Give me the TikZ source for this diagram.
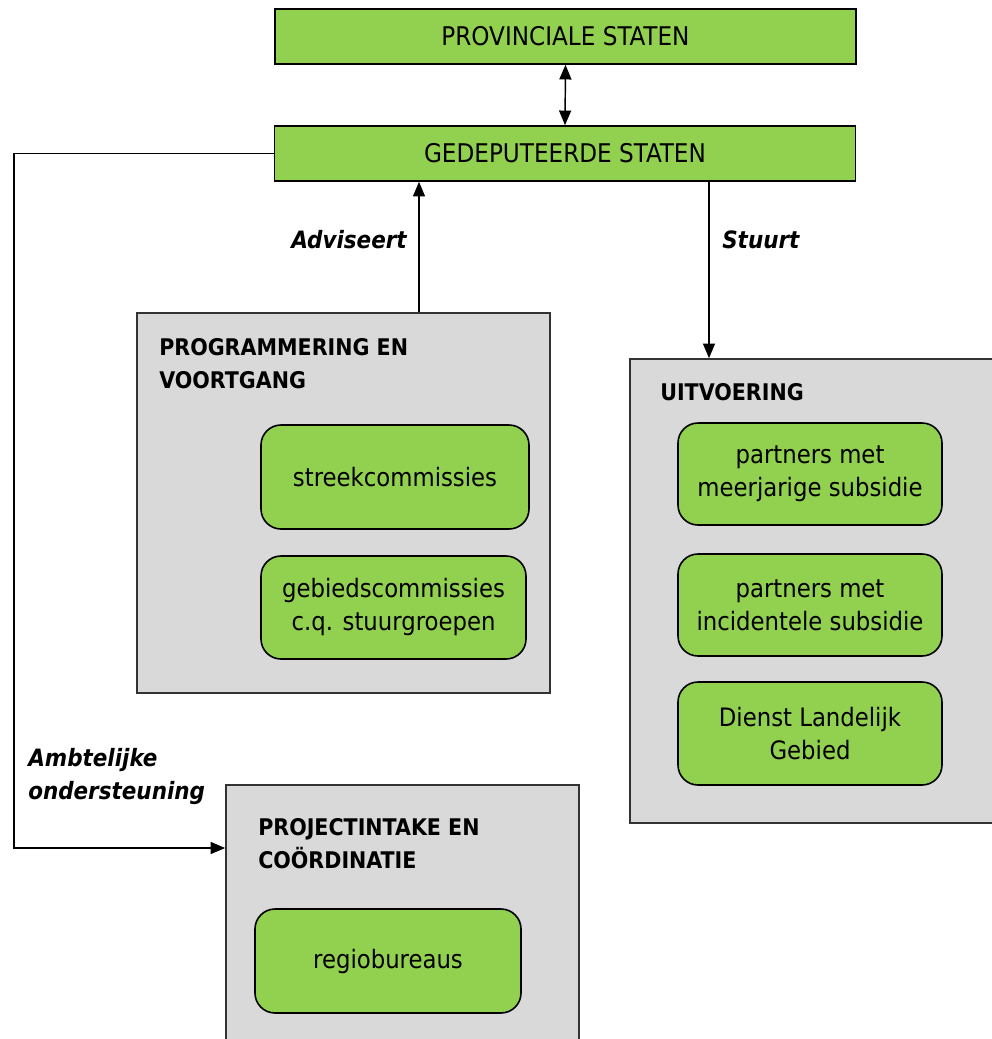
\documentclass[tikz,border=0pt]{standalone}
\usepackage{fontspec}
\setmainfont{DejaVu Sans Condensed}
\usetikzlibrary{arrows.meta}
\definecolor{boxgreen}{HTML}{92D050}
\definecolor{boxgray}{HTML}{D9D9D9}
\begin{document}
\begin{tikzpicture}[x=0.75pt,y=-0.75pt,
  topbox/.style={draw=black,line width=1.2pt,fill=boxgreen,minimum width=435.5pt,minimum height=41.25pt,inner sep=0pt,font=\fontsize{19.3}{24}\selectfont},
  group/.style={draw=black!80,line width=1.2pt,fill=boxgray,inner sep=0pt},
  item/.style={draw=black,line width=1.2pt,fill=boxgreen,rounded corners=15pt,inner sep=0pt,align=center,font=\fontsize{19}{24.75}\selectfont},
  title/.style={anchor=west,align=left,inner sep=0pt,font=\bfseries\fontsize{17.2}{24.75}\selectfont},
  lbl/.style={inner sep=0pt,align=left,font=\bfseries\itshape\fontsize{17.9}{24.75}\selectfont},
  arr/.style={line width=1.1pt,-{Triangle[length=11pt,width=9pt]}},
  arrtwo/.style={line width=1.1pt,{Triangle[length=11pt,width=9pt]}-{Triangle[length=11pt,width=9pt]}},
  conn/.style={line width=1.1pt}]
\useasboundingbox (0,0) rectangle (992,1039);

% top boxes
\node[topbox] (ps) at (565.5,36.5) {PROVINCIALE STATEN};
\node[topbox] (gs) at (565,153.5) {GEDEPUTEERDE STATEN};

% groups
\node[group,minimum width=309.75pt,minimum height=285pt] (pev) at (343.5,503) {};
\node[group,minimum width=274.5pt,minimum height=348pt] (uit) at (813,591) {};
\node[group,minimum width=264.75pt,minimum height=195pt] (pic) at (402.5,915) {};

% group titles
\node[title] (pevt) at (159,363.5) {PROGRAMMERING EN\\VOORTGANG};
\node[title] (uitt) at (660,392) {UITVOERING};
\node[title] (pict) at (258,843.5) {PROJECTINTAKE EN\\COÖRDINATIE};

% items
\node[item,minimum width=201pt,minimum height=78pt] (sc) at (395,477) {streekcommissies};
\node[item,minimum width=198.75pt,minimum height=77.25pt] (gc) at (393.5,607.5) {gebiedscommissies\\c.q. stuurgroepen};
\node[item,minimum width=198pt,minimum height=76.5pt] (pm) at (810,474) {partners met\\meerjarige subsidie};
\node[item,minimum width=198pt,minimum height=76.5pt] (pi) at (810,605) {partners met\\incidentele subsidie};
\node[item,minimum width=198pt,minimum height=77.25pt] (dl) at (810,733.5) {Dienst Landelijk\\Gebied};
\node[item,minimum width=199.5pt,minimum height=78pt] (rb) at (388,961) {regiobureaus};

% connectors
\draw[arrtwo] (ps.south) -- (gs.north);
\coordinate (advx) at (419,0);
\coordinate (stx) at (709,0);
\draw[arr] (pev.north -| advx) -- (gs.south -| advx);
\draw[arr] (gs.south -| stx) -- (uit.north -| stx);
\coordinate (corner) at (14,848);
\draw[arr] (gs.west) -| (corner) -- (pic.west |- corner);

% labels
\node[lbl,anchor=east] (ladv) at (407,240) {Adviseert};
\node[lbl,anchor=west] (lst) at (722,240) {Stuurt};
\node[lbl,anchor=west] (lamb) at (28,776.5) {Ambtelijke\\ondersteuning};
\end{tikzpicture}
\end{document}
